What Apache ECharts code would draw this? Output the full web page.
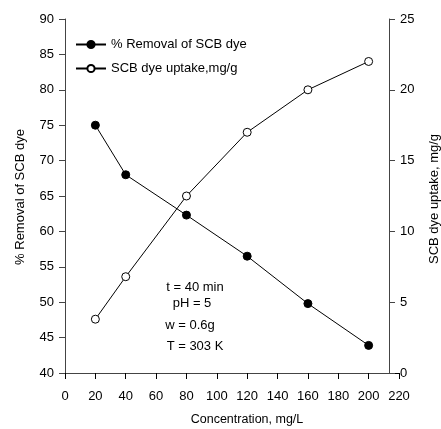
<!DOCTYPE html>
<html>
<head>
<meta charset="utf-8">
<script src="https://cdn.jsdelivr.net/npm/echarts@6/dist/echarts.min.js"></script>
<style>
html,body{margin:0;padding:0;background:#fff;}
#c{width:441px;height:429px;}
</style>
</head>
<body>
<div id="c"></div>
<script>
var concentration = [20, 40, 80, 120, 160, 200];
var removal = [75.0, 68.0, 62.3, 56.5, 49.8, 43.9];
var uptake = [3.8, 6.8, 12.5, 17.0, 20.0, 22.0];
var annotations = ['t = 40 min', 'pH = 5', 'w = 0.6g', 'T = 303 K'];
var xTitle = 'Concentration, mg/L';
var yLeftTitle = '% Removal of SCB dye';
var yRightTitle = 'SCB dye uptake, mg/g';

var FONT = '"Liberation Sans", Arial, sans-serif';
var FS = 13;
var chart = echarts.init(document.getElementById('c'), null, {renderer: 'canvas'});

function pairs(xs, ys){ return xs.map(function(x,i){ return [x, ys[i]]; }); }

var annPos = [[195, 287], [192, 303], [190, 325], [195, 346]];

var graphics = annotations.map(function(t, i){
  return {
    type: 'text', x: annPos[i][0], y: annPos[i][1],
    style: {text: t, fontSize: FS, fill: '#000', fontFamily: FONT, textAlign: 'center', textVerticalAlign: 'middle'}
  };
});
graphics.push({
  type: 'text', x: 247, y: 420,
  style: {text: xTitle, fontSize: 12.5, fill: '#000', fontFamily: FONT, textAlign: 'center', textVerticalAlign: 'middle'}
});
graphics.push({
  type: 'text', x: 20, y: 197, rotation: Math.PI / 2,
  style: {text: yLeftTitle, fontSize: FS, fill: '#000', fontFamily: FONT, textAlign: 'center', textVerticalAlign: 'middle'}
});
graphics.push({
  type: 'text', x: 434, y: 199, rotation: Math.PI / 2,
  style: {text: yRightTitle, fontSize: FS, fill: '#000', fontFamily: FONT, textAlign: 'center', textVerticalAlign: 'middle'}
});

chart.setOption({
  animation: false,
  backgroundColor: '#fff',
  textStyle: {fontFamily: FONT},
  grid: [
    {left: 65, right: 42, top: 19, bottom: 56},
    {left: 65, right: 52, top: 19, bottom: 56}
  ],
  legend: {
    orient: 'vertical',
    left: 70, top: 33,
    itemWidth: 30, itemHeight: 9, itemGap: 11,
    textStyle: {fontSize: FS, color: '#000', fontFamily: FONT},
    data: ['% Removal of SCB dye', 'SCB dye uptake,mg/g']
  },
  xAxis: [
    {
      type: 'value', gridIndex: 0, min: 0, max: 220, interval: 20,
      axisLine: {lineStyle: {color: '#000', width: 1}},
      axisTick: {inside: false, length: 6, lineStyle: {color: '#000'}},
      axisLabel: {fontSize: FS, color: '#000', margin: 17, fontFamily: FONT},
      splitLine: {show: false}
    },
    {
      type: 'value', gridIndex: 1, position: 'top', min: 0, max: 1,
      axisLine: {show: true, lineStyle: {color: '#444', width: 1}},
      axisTick: {show: false}, axisLabel: {show: false}, splitLine: {show: false}
    }
  ],
  yAxis: [
    {
      type: 'value', gridIndex: 0, position: 'left', min: 40, max: 90, interval: 5,
      axisLine: {show: true, lineStyle: {color: '#444', width: 1}},
      axisTick: {show: true, inside: false, length: 6, lineStyle: {color: '#444'}},
      axisLabel: {fontSize: FS, color: '#000', margin: 11, fontFamily: FONT},
      splitLine: {show: false}
    },
    {
      type: 'value', gridIndex: 0, position: 'right', offset: -10, min: 0, max: 25, interval: 5,
      axisLine: {show: true, lineStyle: {color: '#444', width: 1}},
      axisTick: {show: true, inside: false, length: 6, lineStyle: {color: '#444'}},
      axisLabel: {fontSize: FS, color: '#000', margin: 11, fontFamily: FONT},
      splitLine: {show: false}
    },
    {
      type: 'value', gridIndex: 1, show: false, min: 0, max: 1
    }
  ],
  series: [
    {
      name: '% Removal of SCB dye', type: 'line',
      xAxisIndex: 0, yAxisIndex: 0,
      data: pairs(concentration, removal),
      symbol: 'circle', symbolSize: 8,
      lineStyle: {color: '#000', width: 1},
      itemStyle: {color: '#000', borderColor: '#000', borderWidth: 1}
    },
    {
      name: 'SCB dye uptake,mg/g', type: 'line',
      xAxisIndex: 0, yAxisIndex: 1,
      data: pairs(concentration, uptake),
      symbol: 'circle', symbolSize: 8, showAllSymbol: true,
      lineStyle: {color: '#000', width: 1},
      itemStyle: {color: '#fff', borderColor: '#000', borderWidth: 1}
    }
  ],
  graphic: graphics
});
</script>
</body>
</html>
